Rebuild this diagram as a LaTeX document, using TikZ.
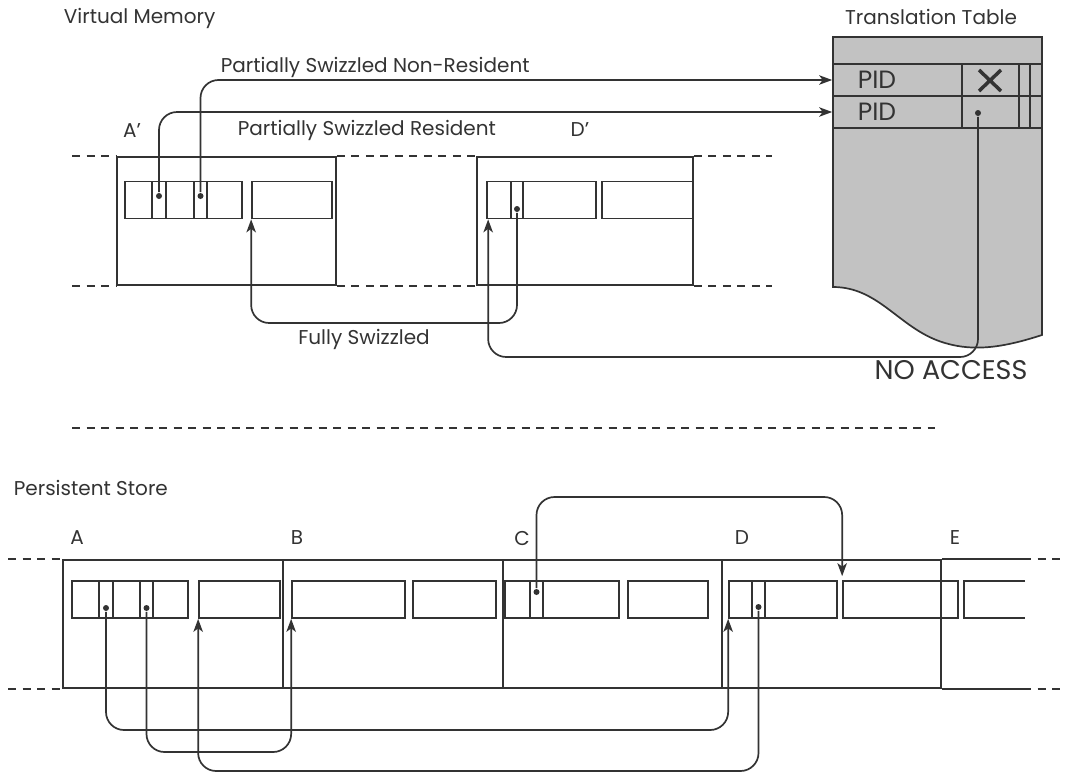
\documentclass[tikz,border=0pt]{standalone}
\usepackage{fontspec}
\setmainfont{Poppins}
\usetikzlibrary{arrows.meta}

\begin{document}
\begin{tikzpicture}[
  x=1pt, y=-1pt, line width=1.7pt, color=black!80,
  page/.style={draw, minimum height=128pt, inner sep=0pt},
  obj/.style={draw, minimum height=37pt, inner sep=0pt},
  slot/.style={draw, minimum width=13pt, minimum height=37pt, inner sep=0pt},
  hole/.style={circle, fill, inner sep=0pt, minimum size=6pt},
  trow/.style={draw, minimum width=209pt, minimum height=32pt, inner sep=0pt},
  ptr/.style={-{Stealth[length=13pt, width=9.5pt, inset=3.5pt]}, rounded corners=18pt},
  gap/.style={dash pattern=on 8pt off 6.5pt},
  lbl/.style={font=\fontsize{20}{24}\selectfont, inner sep=0pt},
  big/.style={font=\fontsize{25}{30}\selectfont, inner sep=0pt}
]
\useasboundingbox (0,0) rectangle (1065,774);

% ---- virtual memory
\node[lbl, anchor=west] (vm) at (63,18) {Virtual Memory};
\node[page, minimum width=219pt] (vA) at (226.5,221) {};
\node[page, minimum width=216pt] (vD) at (585,221) {};
\coordinate (vl) at (72,0);
\coordinate (vr) at (772,0);
\draw[gap] (vl |- vA.north) -- (vA.north west);
\draw[gap] (vA.north east) -- (vD.north west);
\draw[gap] (vD.north east) -- (vr |- vD.north);
\draw[gap] (vl |- vA.south) -- (vA.south west);
\draw[gap] (vA.south east) -- (vD.south west);
\draw[gap] (vD.south east) -- (vr |- vD.south);

\node[obj, minimum width=117pt] (vA1) at (183.5,200) {};
\node[obj, minimum width=80pt] (vA2) at (292,200) {};
\node[slot, minimum width=14pt] (vAs1) at (159,200) {};
\node[slot] (vAs2) at (200.5,200) {};
\node[hole] (vAh1) at (159,196) {};
\node[hole] (vAh2) at (200.5,196) {};
\node[obj, minimum width=109pt] (vD1) at (541.5,200) {};
\node[obj, minimum width=91pt] (vD2) at (647.5,200) {};
\node[slot, minimum width=12pt] (vDs) at (517,200) {};
\node[hole] (vDh) at (517,209) {};
\coordinate (vD1in) at ([xshift=2pt]vD1.south west);

\node[lbl] (ap) at (132,131) {A’};
\node[lbl] (dp) at (580,130) {D’};
\node[lbl, anchor=west] (psn) at (220,67) {Partially Swizzled Non-Resident};
\node[lbl, anchor=west] (psr) at (237,130) {Partially Swizzled Resident};
\node[lbl] (fs) at (364,339) {Fully Swizzled};

% ---- translation table
\node[lbl] (tt) at (931,17) {Translation Table};
\filldraw[fill=black!24] (833,37) -- (1042,37) -- (1042,335)
  .. controls (1005,347) and (975,352) .. (945,343)
  .. controls (900,330) and (880,287) .. (833,287) -- cycle;
\node[trow] (T1) at (937.5,80) {};
\node[trow] (T2) at (937.5,112) {};
\draw (962,64) -- (962,128) (1019,64) -- (1019,128) (1030,64) -- (1030,128);
\node[big, anchor=west] (pid1) at (857,80) {PID};
\node[big, anchor=west] (pid2) at (857,112) {PID};
\draw[line width=3.5pt] (979,70) -- (1001,91) (1001,70) -- (979,91);
\node[hole] (Th) at (978,113) {};
\node[big, font=\fontsize{27}{32}\selectfont] (na) at (951,370) {NO ACCESS};

\coordinate (fsw) at (0,323);
\coordinate (nac) at (0,357);
\draw[ptr] (vAh2) |- (T1.west);
\draw[ptr] (vAh1) |- (T2.west);
\draw[ptr] (vDh) |- (fsw -| vA2.south west) -- (vA2.south west);
\draw[ptr] (Th) |- (nac -| vD1in) -- (vD1in);

\coordinate (ml) at (72,428);
\coordinate (mr) at (935,428);
\draw[gap] (ml) -- (mr);

% ---- persistent store
\node[lbl, anchor=west] (ps) at (13,488) {Persistent Store};
\node[page, minimum width=220pt] (sA) at (173,624) {};
\node[page, minimum width=220pt] (sB) at (393,624) {};
\node[page, minimum width=219pt] (sC) at (612.5,624) {};
\node[page, minimum width=219pt] (sD) at (831.5,624) {};
\coordinate (pl) at (8,0);
\coordinate (pr) at (1023,0);
\draw (sD.north east) -- (pr |- sD.north);
\draw (sD.south east) -- (pr |- sD.south);
\draw[gap] (pl |- sA.north) -- (sA.north west);
\draw[gap] (pl |- sA.south) -- (sA.south west);
\draw[gap] (pr |- sD.north) -- +(42,0);
\draw[gap] (pr |- sD.south) -- +(42,0);

\node[lbl] (la) at (77,538) {A};
\node[lbl] (lb) at (297,538) {B};
\node[lbl] (lc) at (522,538) {C};
\node[lbl] (ld) at (742,538) {D};
\node[lbl] (le) at (955,538) {E};

\node[obj, minimum width=116pt] (sA1) at (130,599.5) {};
\node[obj, minimum width=81pt] (sA2) at (239.5,599.5) {};
\node[slot, minimum width=14pt] (sAs1) at (106,599.5) {};
\node[slot] (sAs2) at (146.5,599.5) {};
\node[hole] (sAh1) at (106,608) {};
\node[hole] (sAh2) at (146.5,608) {};
\node[obj, minimum width=113pt] (sB1) at (348.5,599.5) {};
\node[obj, minimum width=83pt] (sB2) at (454.5,599.5) {};
\node[obj, minimum width=114pt] (sC1) at (562,599.5) {};
\node[obj, minimum width=80pt] (sC2) at (668,599.5) {};
\node[slot] (sCs) at (536.5,599.5) {};
\node[hole] (sCh) at (536.5,592) {};
\node[obj, minimum width=108pt] (sD1) at (783,599.5) {};
\node[obj, minimum width=115pt] (sD2) at (900.5,599.5) {};
\node[slot] (sDs) at (758.5,599.5) {};
\node[hole] (sDh) at (758.5,607) {};
\draw (1025,581) -- (964,581) -- (964,618) -- (1025,618);
\coordinate (sD2in) at ([yshift=4pt]sD2.north west);

\coordinate (r1) at (0,730);
\coordinate (r2) at (0,752);
\coordinate (r3) at (0,771);
\coordinate (r4) at (0,497);
\draw[ptr] (sAh1) |- (r1 -| sD1.south west) -- (sD1.south west);
\draw[ptr] (sAh2) |- (r2 -| sB1.south west) -- (sB1.south west);
\draw[ptr] (sDh) |- (r3 -| sA2.south west) -- (sA2.south west);
\draw[ptr] (sCh) |- (r4 -| sD2in) -- (sD2in);
\end{tikzpicture}
\end{document}
